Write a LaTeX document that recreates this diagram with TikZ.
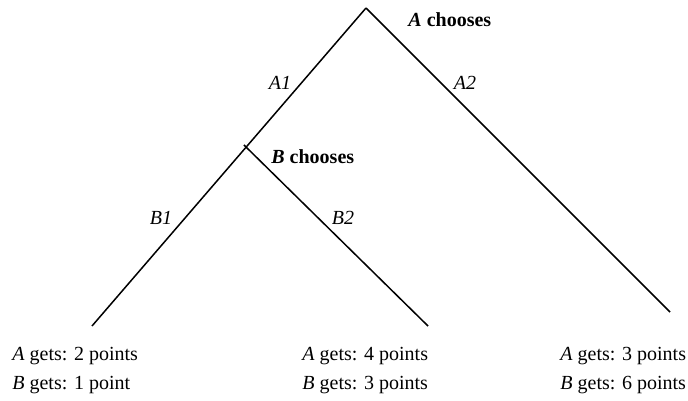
\documentclass[tikz,border=0pt]{standalone}
\usepackage{fontspec}
\setmainfont{Liberation Serif}
\begin{document}
\begin{tikzpicture}[x=0.5pt,y=-0.5pt,
  branch/.style={line width=0.75pt},
  lbl/.style={inner sep=0pt,font=\itshape},
  mover/.style={anchor=west,inner sep=0pt,font=\bfseries},
  payoff/.style={anchor=north west,inner sep=0pt,align=left,font=\fontsize{10}{14.5}\selectfont}]
  \useasboundingbox (0,0) rectangle (688,400);

  % tree points
  \coordinate (root) at (366,8);
  \coordinate (bnode) at (246,147);
  \coordinate (leafA) at (92,326);
  \coordinate (leafB) at (428,326);
  \coordinate (leafC) at (670,312);

  \draw[branch] (root) -- (leafA);
  \draw[branch] (root) -- (leafC);
  \draw[branch,shorten <=-1.5pt] (bnode) -- (leafB);

  % who moves
  \node[mover] (achoose) at (408,20) {\textit{A} chooses};
  \node[mover] (bchoose) at (271,157) {\textit{B} chooses};

  % moves
  \node[lbl] (a1) at (280,83) {A1};
  \node[lbl] (a2) at (465,83) {A2};
  \node[lbl] (b1) at (161,218) {B1};
  \node[lbl] (b2) at (343,218) {B2};

  % payoffs
  \node[payoff] (payA) at (12,347) {\textit{A} gets: 2 points\\\textit{B} gets: 1 point};
  \node[payoff] (payB) at (302,347) {\textit{A} gets: 4 points\\\textit{B} gets: 3 points};
  \node[payoff] (payC) at (560,347) {\textit{A} gets: 3 points\\\textit{B} gets: 6 points};
\end{tikzpicture}
\end{document}
